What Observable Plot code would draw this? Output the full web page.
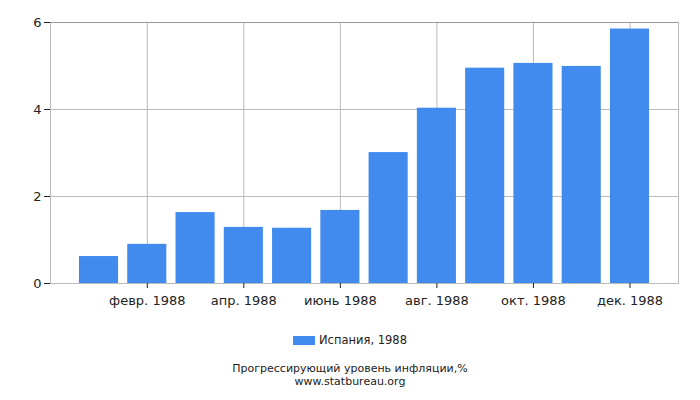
<!DOCTYPE html>
<html><head><meta charset="utf-8">
<script src="https://cdn.jsdelivr.net/npm/d3@7"></script>
<script src="https://cdn.jsdelivr.net/npm/@observablehq/plot@0.6"></script>
<style>
body{margin:0;background:#fff;font-family:"DejaVu Sans",sans-serif;}
#legend{height:24px;display:flex;justify-content:center;align-items:center;font-size:11.5px;color:#222;margin-top:8px;}
#legend span.sw{display:inline-block;width:22px;height:9px;background:#418bef;margin-right:4px;}
#caption{text-align:center;font-size:11px;line-height:12.5px;color:#222;margin-top:11px;}
</style></head>
<body>
<div id="chart"></div>
<div id="legend"><span class="sw"></span><span>Испания, 1988</span></div>
<div id="caption"><div>Прогрессирующий уровень инфляции,%</div><div>www.statbureau.org</div></div>
<script>
const months = ["янв. 1988","февр. 1988","март 1988","апр. 1988","май 1988","июнь 1988","июль 1988","авг. 1988","сент. 1988","окт. 1988","нояб. 1988","дек. 1988"];
const values = [0.62,0.90,1.63,1.29,1.27,1.68,3.01,4.03,4.95,5.06,4.99,5.85];
const xTicks = ["февр. 1988","апр. 1988","июнь 1988","авг. 1988","окт. 1988","дек. 1988"];
const yTicks = [0,2,4,6];
const data = months.map((m,i)=>({month:m,value:values[i]}));
const chart = Plot.plot({
  width:700, height:320,
  marginLeft:50, marginRight:22, marginTop:22, marginBottom:37,
  style:{fontFamily:"DejaVu Sans, sans-serif", fontSize:"13px", color:"#222"},
  x:{type:"band", domain:months, paddingInner:0.19, paddingOuter:0.6, round:false, label:null},
  y:{domain:[0,6], label:null},
  marks:[
    Plot.gridX(xTicks,{stroke:"#bbb",strokeOpacity:1}),
    Plot.gridY(yTicks,{stroke:"#bbb",strokeOpacity:1}),
    Plot.frame({stroke:"#bbb"}),
    Plot.ruleY([6],{stroke:"#999"}),
    Plot.barY(data,{x:"month",y:"value",fill:"#418bef"}),
    Plot.axisX({ticks:xTicks, tickSize:5, tickPadding:7, stroke:"#222", fontSize:13}),
    Plot.axisY({ticks:yTicks, tickFormat:d3.format("d"), tickSize:6, tickPadding:3, stroke:"#222", fontSize:13}),
    Plot.ruleX([0],{x:()=>0, stroke:"#888"})
  ]
});
document.getElementById("chart").appendChild(chart);
</script>
</body></html>
